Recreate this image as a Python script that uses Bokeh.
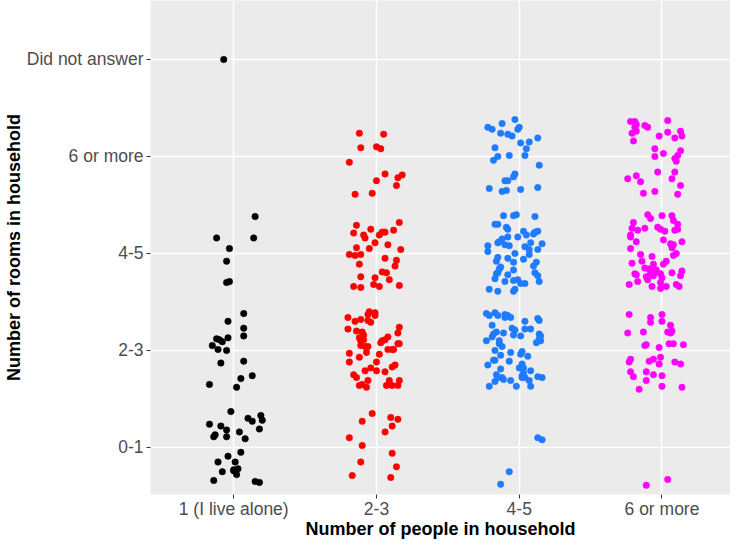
from bokeh.plotting import figure
from bokeh.models import FixedTicker
from bokeh.embed import file_html
from bokeh.resources import INLINE

# Categories
x_labels = ["1 (I live alone)", "2-3", "4-5", "6 or more"]
y_labels = ["0-1", "2-3", "4-5", "6 or more", "Did not answer"]

# Jittered points (x: people category index, y: rooms category index)
alone_x = [1.15, 0.88, 1.14, 0.97, 0.95, 0.95, 0.97, 1.07, 0.96, 1.07, 1.07, 0.88, 0.90, 0.92, 0.96,
           0.85, 0.89, 0.95, 0.91, 1.07, 1.05, 1.13, 0.83, 1.02, 0.98, 0.83, 1.10, 1.13, 1.19, 1.20,
           0.91, 0.95, 1.18, 0.87, 0.86, 0.95, 1.04, 1.08, 1.05, 0.96, 0.89, 1.01, 0.92, 1.00, 1.03,
           1.02, 1.00, 0.86, 1.15, 1.18, 0.93]
alone_y = [3.38, 3.16, 3.16, 3.05, 2.92, 2.70, 2.71, 2.38, 2.30, 2.23, 2.15, 2.12, 2.11, 2.09, 2.13,
           2.05, 2.01, 2.00, 1.87, 1.89, 1.71, 1.74, 1.65, 1.62, 1.37, 1.24, 1.30, 1.27, 1.33, 1.28,
           1.22, 1.18, 1.19, 1.13, 1.11, 1.11, 1.16, 1.09, 0.95, 0.91, 0.85, 0.85, 0.75, 0.77, 0.78,
           0.72, 0.76, 0.66, 0.65, 0.64, 5.00]

two_three_x = [1.88, 2.05, 1.89, 2.00, 2.03, 1.81, 2.06, 2.00, 2.15, 2.18, 2.14, 1.85, 1.97, 2.16,
               1.86, 1.96, 2.12, 1.84, 1.91, 1.92, 2.02, 2.04, 2.06, 1.99, 1.86, 1.95, 2.08, 2.17,
               1.81, 1.85, 1.89, 2.06, 2.14, 1.88, 2.13, 2.04, 2.07, 1.89, 1.99, 2.09, 1.84, 1.89,
               1.98, 2.02, 2.16,
               1.95, 1.99, 1.94, 1.99, 1.80, 1.85, 1.89, 1.94, 1.96, 2.16, 1.80, 1.86, 1.90, 2.15,
               1.91, 1.88, 1.91, 1.89, 2.08, 2.06, 2.04, 2.03, 2.15, 2.16, 1.89, 1.92, 1.94, 2.08,
               2.12, 2.11, 1.81, 1.93, 2.02, 1.88, 1.81, 2.00, 2.13, 2.11, 1.96, 2.00, 1.92, 2.06,
               1.84, 1.86, 1.94, 2.09, 2.16, 1.88, 1.90, 1.93, 2.07, 2.11, 2.15,
               1.97, 1.90, 2.10, 2.15, 2.11, 2.06, 1.81, 1.90, 2.11, 1.89, 2.14, 1.83, 2.10]
two_three_y = [4.24, 4.23, 4.09, 4.10, 4.08, 3.94, 3.82, 3.75, 3.78, 3.81, 3.70, 3.61, 3.62, 3.32,
               3.29, 3.25, 3.24, 3.21, 3.19, 3.16, 3.19, 3.22, 3.22, 3.11, 3.06, 3.05, 3.09, 3.04,
               2.99, 2.98, 2.99, 2.95, 2.93, 2.89, 2.87, 2.81, 2.80, 2.76, 2.75, 2.73, 2.66, 2.65,
               2.68, 2.66, 2.67,
               2.40, 2.39, 2.37, 2.36, 2.34, 2.30, 2.32, 2.31, 2.29, 2.24, 2.22, 2.20, 2.19, 2.18,
               2.16, 2.13, 2.11, 2.10, 2.14, 2.11, 2.10, 2.08, 2.07, 2.07, 2.05, 2.04, 2.04, 2.01,
               2.01, 2.01, 1.97, 1.98, 1.96, 1.93, 1.88, 1.88, 1.85, 1.83, 1.82, 1.79, 1.79, 1.78,
               1.75, 1.72, 1.69, 1.69, 1.69, 1.64, 1.65, 1.62, 1.64, 1.64, 1.64,
               1.35, 1.27, 1.31, 1.29, 1.22, 1.16, 1.10, 1.02, 0.94, 0.85, 0.80, 0.71, 0.69]

four_five_x = [2.97, 2.88, 2.78, 2.81, 3.00, 2.99, 2.87, 2.92, 2.95, 3.13, 3.01, 3.07, 2.83, 3.05,
               2.85, 2.93, 3.04, 2.82, 3.14, 2.97, 2.96, 2.90, 2.92, 2.79, 2.88, 2.91, 3.01, 3.13,
               2.89, 2.96, 2.98, 3.11, 2.83, 2.85, 2.91, 2.92, 3.03, 3.13, 3.10, 3.11, 3.05, 2.92,
               2.88, 2.86, 2.99, 3.08, 3.16, 2.85, 2.90, 2.93, 3.04, 3.07, 2.78, 2.78, 3.13, 2.97,
               3.07, 2.85, 2.92, 3.03, 2.84, 2.96, 3.12, 3.10, 2.87, 2.86, 2.85, 2.84, 2.96, 2.92,
               3.11, 3.13, 2.83, 2.90, 2.96, 2.99, 3.01, 3.04, 3.14, 2.79, 2.85, 2.97, 2.96,
               2.77, 2.79, 2.83, 2.85, 2.90, 2.92, 2.94, 2.90, 3.13, 3.14, 3.04, 2.81, 2.95, 2.97,
               3.04, 3.08, 2.84, 2.82, 2.81, 2.89, 2.96, 3.01, 3.14, 3.15, 3.14, 3.15, 3.12, 2.77,
               2.86, 2.86, 2.88, 2.83, 2.94, 3.02, 3.01, 2.87, 3.06, 2.82, 2.83, 2.93, 2.78, 3.02,
               3.00, 3.03, 2.87, 3.08, 3.03, 3.02, 2.84, 2.85, 2.88, 2.89, 2.83, 3.02, 3.04, 2.94,
               3.13, 3.16, 3.07, 2.79, 2.98, 3.08, 3.13, 3.16, 2.93, 2.87]
four_five_y = [4.38, 4.34, 4.30, 4.28, 4.30, 4.28, 4.24, 4.23, 4.21, 4.19, 4.14, 4.15, 4.09, 4.08,
               4.00, 4.01, 4.01, 3.96, 3.91, 3.82, 3.79, 3.75, 3.75, 3.67, 3.64, 3.65, 3.66, 3.68,
               3.39, 3.39, 3.40, 3.38, 3.30, 3.30, 3.27, 3.25, 3.23, 3.23, 3.20, 3.22, 3.19, 3.17,
               3.15, 3.12, 3.17, 3.11, 3.10, 3.11, 3.09, 3.08, 3.07, 3.04, 3.08, 3.02, 3.04, 3.00,
               2.99, 2.96, 2.95, 2.94, 2.92, 2.91, 2.91, 2.87, 2.86, 2.84, 2.80, 2.79, 2.83, 2.78,
               2.80, 2.77, 2.74, 2.71, 2.72, 2.73, 2.69, 2.69, 2.71, 2.63, 2.61, 2.63, 2.61,
               2.38, 2.36, 2.39, 2.36, 2.37, 2.36, 2.34, 2.34, 2.33, 2.31, 2.30, 2.26, 2.23, 2.21,
               2.22, 2.22, 2.19, 2.17, 2.14, 2.18, 2.16, 2.15, 2.17, 2.15, 2.12, 2.10, 2.08, 2.10,
               2.10, 2.07, 2.04, 2.00, 1.98, 1.99, 1.96, 1.95, 1.94, 1.90, 1.90, 1.89, 1.85, 1.86,
               1.82, 1.82, 1.81, 1.79, 1.77, 1.74, 1.75, 1.72, 1.72, 1.70, 1.68, 1.72, 1.72, 1.69,
               1.73, 1.72, 1.69, 1.63, 1.63, 1.63, 1.10, 1.08, 0.75, 0.62]

six_plus_x = [3.78, 3.81, 3.82, 3.81, 3.88, 3.90, 4.04, 3.82, 3.79, 4.04, 4.13, 4.14, 3.98, 4.09,
              3.80, 3.95, 4.13, 4.01, 3.95, 4.11, 4.09, 4.10, 3.97, 4.09, 3.82, 3.76, 3.85, 4.07,
              4.13, 3.87, 3.95, 4.11,
              3.90, 3.92, 4.00, 4.07, 4.08, 3.80, 4.11, 4.11, 4.09, 3.79, 3.88, 3.83, 3.97, 3.99,
              4.02, 3.78, 3.78, 4.01, 4.06, 4.07, 4.08, 4.14, 3.82, 3.78, 4.10, 4.08, 3.85, 3.93,
              3.79, 3.86, 3.94, 4.03, 4.01, 3.88, 3.91, 3.93, 3.92, 3.95, 3.96, 3.94, 3.81, 3.82,
              3.99, 4.07, 4.14, 4.13, 3.89, 3.90, 4.00, 3.83, 3.99, 3.77, 3.93, 3.99, 4.03, 4.10,
              4.12,
              3.77, 3.92, 3.92, 4.00, 4.00, 4.06, 3.76, 3.87, 4.04, 4.07, 4.06, 3.88, 3.89, 3.98,
              4.05, 4.08, 4.15, 3.78, 3.77, 3.91, 3.94, 3.99, 3.98, 4.09, 4.13, 3.78, 3.80, 3.89,
              3.94, 4.00, 3.89, 4.00, 4.14, 3.84, 4.04, 3.89]
six_plus_y = [4.36, 4.36, 4.33, 4.30, 4.32, 4.30, 4.37, 4.26, 4.24, 4.25, 4.26, 4.21, 4.21, 4.19,
              4.16, 4.08, 4.06, 4.03, 4.00, 4.01, 3.98, 3.95, 3.84, 3.84, 3.80, 3.77, 3.74, 3.77,
              3.70, 3.62, 3.64, 3.61,
              3.40, 3.36, 3.39, 3.39, 3.34, 3.32, 3.30, 3.25, 3.24, 3.26, 3.26, 3.24, 3.27, 3.25,
              3.23, 3.19, 3.17, 3.14, 3.10, 3.06, 3.09, 3.12, 3.12, 3.05, 3.00, 2.98, 2.99, 2.97,
              2.90, 2.92, 2.89, 2.92, 2.89, 2.85, 2.84, 2.82, 2.80, 2.80, 2.83, 2.77, 2.79, 2.78,
              2.79, 2.80, 2.82, 2.77, 2.76, 2.73, 2.75, 2.71, 2.70, 2.68, 2.66, 2.64, 2.66, 2.68,
              2.66,
              2.37, 2.34, 2.29, 2.37, 2.30, 2.26, 2.18, 2.19, 2.19, 2.20, 2.18, 2.05, 2.06, 2.03,
              2.07, 2.07, 2.06, 1.91, 1.88, 1.89, 1.91, 1.93, 1.86, 1.88, 1.86, 1.78, 1.73, 1.78,
              1.75, 1.74, 1.69, 1.63, 1.62, 1.60, 0.67, 0.61]

groups = [
    (alone_x, alone_y, "#000000"),
    (two_three_x, two_three_y, "#FF0000"),
    (four_five_x, four_five_y, "#1F7BFF"),
    (six_plus_x, six_plus_y, "#FF00FF"),
]

FONT = "Liberation Sans"

p = figure(width=730, height=542, x_range=(0.417, 4.48), y_range=(0.515, 5.608),
           output_backend="svg", toolbar_location=None,
           min_border_left=150, min_border_right=0, min_border_top=0, min_border_bottom=48)

p.background_fill_color = "#EBEBEB"
p.border_fill_color = "white"
p.outline_line_color = None

for xs, ys, col in groups:
    p.scatter(xs, ys, size=6.5, fill_color=col, line_color=col, line_width=0.5)

p.xaxis.ticker = FixedTicker(ticks=[1, 2, 3, 4])
p.yaxis.ticker = FixedTicker(ticks=[1, 2, 3, 4, 5])
p.xaxis.major_label_overrides = {i + 1: lab for i, lab in enumerate(x_labels)}
p.yaxis.major_label_overrides = {i + 1: lab for i, lab in enumerate(y_labels)}

for ax in (p.xaxis[0], p.yaxis[0]):
    ax.axis_line_color = None
    ax.major_tick_line_color = "#333333"
    ax.major_tick_out = 4
    ax.major_tick_in = 0
    ax.minor_tick_line_color = None
    ax.major_label_text_font = FONT
    ax.major_label_text_font_size = "17.5px"
    ax.major_label_text_color = "#4D4D4D"
    ax.axis_label_text_font = FONT
    ax.axis_label_text_font_size = "18px"
    ax.axis_label_text_font_style = "bold"
    ax.axis_label_text_color = "#000000"

p.xaxis.major_label_standoff = 0
p.yaxis.major_label_standoff = 3
p.xaxis.axis_label = "Number of people in household"
p.yaxis.axis_label = "Number of rooms in household"
p.xaxis.axis_label_standoff = -3
p.yaxis.axis_label_standoff = 0

p.xgrid.grid_line_color = "white"
p.ygrid.grid_line_color = "white"
p.xgrid.grid_line_width = 1.5
p.ygrid.grid_line_width = 1.5

open("out.html", "w").write(file_html(p, INLINE))
